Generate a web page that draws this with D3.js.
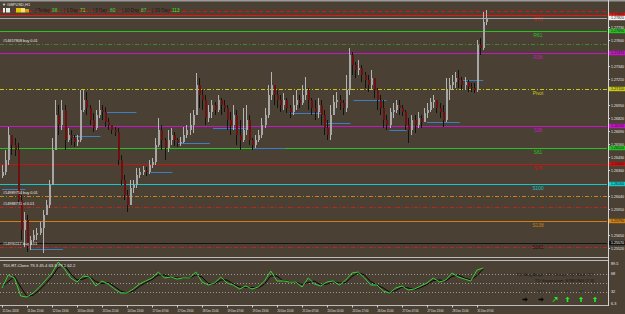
<!DOCTYPE html>
<html><head><meta charset="utf-8">
<script src="https://cdn.jsdelivr.net/npm/d3@7"></script>
<style>
html,body{margin:0;padding:0;background:#4b4034;overflow:hidden;}
svg{display:block;font-family:"Liberation Sans",Arial,sans-serif;}
</style></head><body>
<svg id="c" width="625" height="314"></svg>
<script>
// ---------- DATA ----------
const symbol = "\u25BC GBPUSD,H1";
const rangeLabels = ["Today","1 Day","5 Day","10 Day","20 Day"];
const rangeValues = [98,71,80,87,113];

// 2-hour bars (open = previous close)
const firstOpen = 1.2624;
const closes=[1.2628,1.2640,1.2665,1.2655,1.2650,1.2600,1.2570,1.2580,1.2555,1.2560,
1.2565,1.2567,1.2572,1.2585,1.2595,1.2615,1.2650,1.2685,1.2675,1.2690,
1.2660,1.2665,1.2662,1.2658,1.2660,1.2690,1.2700,1.2692,1.2680,1.2672,
1.2685,1.2690,1.2688,1.2678,1.2675,1.2670,1.2668,1.2640,1.2620,1.2605,
1.2595,1.2612,1.2615,1.2625,1.2628,1.2630,1.2628,1.2635,1.2638,1.2655,
1.2670,1.2660,1.2652,1.2660,1.2665,1.2660,1.2657,1.2658,1.2665,1.2670,
1.2675,1.2685,1.2715,1.2705,1.2700,1.2682,1.2688,1.2695,1.2690,1.2700,
1.2695,1.2692,1.2680,1.2675,1.2685,1.2665,1.2660,1.2670,1.2680,1.2660,
1.2655,1.2660,1.2665,1.2675,1.2685,1.2705,1.2715,1.2705,1.2700,1.2695,
1.2700,1.2692,1.2688,1.2695,1.2700,1.2697,1.2705,1.2710,1.2700,1.2692,
1.2688,1.2695,1.2685,1.2672,1.2665,1.2685,1.2698,1.2700,1.2697,1.2692,
1.2710,1.2745,1.2735,1.2730,1.2732,1.2725,1.2720,1.2715,1.2722,1.2710,
1.2700,1.2692,1.2680,1.2675,1.2688,1.2690,1.2695,1.2692,1.2688,1.2675,
1.2670,1.2680,1.2675,1.2682,1.2678,1.2687,1.2690,1.2698,1.2700,1.2692,
1.2688,1.2680,1.2710,1.2715,1.2718,1.2722,1.2720,1.2715,1.2718,1.2713,
1.2712,1.2710,1.2755,1.2752,1.2778,1.2782];
const highs=[1.2635,1.2650,1.2673,1.2665,1.2662,1.2657,1.2605,1.2588,1.2585,1.2564,
1.2570,1.2572,1.2578,1.2590,1.2600,1.2620,1.2662,1.2700,1.2695,1.2700,
1.2695,1.2672,1.2670,1.2665,1.2665,1.2710,1.2710,1.2708,1.2695,1.2687,
1.2690,1.2700,1.2695,1.2693,1.2682,1.2675,1.2673,1.2672,1.2645,1.2625,
1.2610,1.2620,1.2620,1.2632,1.2632,1.2634,1.2633,1.2640,1.2642,1.2662,
1.2682,1.2675,1.2662,1.2670,1.2672,1.2668,1.2662,1.2663,1.2673,1.2675,
1.2687,1.2690,1.2727,1.2722,1.2710,1.2705,1.2695,1.2700,1.2698,1.2705,
1.2702,1.2700,1.2695,1.2688,1.2695,1.2690,1.2680,1.2692,1.2695,1.2685,
1.2662,1.2665,1.2670,1.2682,1.2692,1.2715,1.2728,1.2715,1.2710,1.2705,
1.2707,1.2702,1.2695,1.2705,1.2710,1.2705,1.2715,1.2723,1.2712,1.2702,
1.2700,1.2702,1.2700,1.2690,1.2680,1.2695,1.2705,1.2708,1.2705,1.2700,
1.2725,1.2752,1.2748,1.2738,1.2740,1.2735,1.2728,1.2725,1.2730,1.2722,
1.2712,1.2705,1.2700,1.2685,1.2692,1.2697,1.2700,1.2700,1.2695,1.2690,
1.2682,1.2685,1.2685,1.2688,1.2685,1.2692,1.2697,1.2702,1.2705,1.2700,
1.2697,1.2695,1.2722,1.2722,1.2725,1.2728,1.2730,1.2723,1.2723,1.2720,
1.2717,1.2717,1.2760,1.2762,1.2788,1.2790];
const lows=[1.2622,1.2625,1.2635,1.2645,1.2644,1.2595,1.2560,1.2553,1.2548,1.2550,
1.2558,1.2560,1.2565,1.2547,1.2585,1.2592,1.2615,1.2650,1.2665,1.2670,
1.2650,1.2658,1.2655,1.2653,1.2654,1.2658,1.2688,1.2685,1.2675,1.2668,
1.2670,1.2682,1.2680,1.2673,1.2670,1.2666,1.2664,1.2635,1.2615,1.2600,
1.2588,1.2605,1.2607,1.2612,1.2622,1.2625,1.2624,1.2626,1.2632,1.2635,
1.2653,1.2650,1.2640,1.2648,1.2655,1.2654,1.2653,1.2654,1.2657,1.2662,
1.2665,1.2667,1.2688,1.2692,1.2690,1.2675,1.2678,1.2682,1.2685,1.2688,
1.2685,1.2688,1.2670,1.2665,1.2670,1.2655,1.2650,1.2658,1.2665,1.2655,
1.2650,1.2652,1.2658,1.2662,1.2672,1.2682,1.2700,1.2695,1.2692,1.2688,
1.2690,1.2687,1.2682,1.2685,1.2690,1.2692,1.2695,1.2700,1.2690,1.2685,
1.2680,1.2682,1.2675,1.2665,1.2660,1.2660,1.2685,1.2692,1.2690,1.2685,
1.2688,1.2705,1.2725,1.2722,1.2725,1.2718,1.2712,1.2708,1.2710,1.2702,
1.2690,1.2685,1.2672,1.2670,1.2672,1.2682,1.2687,1.2685,1.2684,1.2670,
1.2657,1.2665,1.2667,1.2672,1.2672,1.2678,1.2682,1.2688,1.2692,1.2687,
1.2682,1.2673,1.2678,1.2700,1.2710,1.2712,1.2712,1.2710,1.2710,1.2708,
1.2708,1.2707,1.2708,1.2745,1.2750,1.2775];

// Pivot / fibo levels
const levelNames  = ["R76","R61","R38","Pivot","S38","S61","S76","S100","S138","S161"];
const levelPrices = [1.2785,1.2769,1.2747,1.2711,1.2674,1.2652,1.2636,1.2616,1.2579,1.2557];
const levelColors = ["#e81414","#22c422","#c814c8","#c8c814","#c814c8","#22c422","#c81414","#14c8c8","#d0800e","#141414"];
const levelDashed = [false,false,false,true,false,false,false,false,false,false];

// order lines
const orderPrices = [1.2789,1.2756,1.2604,1.2593,1.2553];
const orderColors = ["#d01818","#3a8a2a","#c08a18","#c82020","#c82020"];
const orderDash   = ["4,3","4,2,1,2","4,2,1,2","4,2,1,2","4,2,1,2"];
const orderLabels = ["","#14657808 buy 0.01","#14989754 buy 0.01","#14988731 sl 0.01","#14990117 buy 0.01"];

// daily blue segments: [startHour, endHour, price]
const segStart = [0,18,45,67,95,112,135,161,184,207,225,248,272,295];
const segEnd   = [15,39,63,86,109,133,157,181,205,223,246,259,293,308];
const segPrice = [1.2611,1.2551,1.2664,1.2688,1.2628,1.2657,1.2672,1.2652,1.2687,1.2677,1.2700,1.2670,1.2678,1.2720];

const bidPrice = 1.2782;
const priceTicks = [1.2773,1.2760,1.2734,1.2721,1.2695,1.2682,1.2669,1.2656,1.2643,1.2630,1.2604,1.2591,1.2565,1.2552];

// time axis (H1 bar index)
const timeHours  = [0,16,32,48,64,80,96,112,128,144,160,176,192,208,224,240,256,272,288,304];
const timeLabels = ["11 Dec 2018","11 Dec 21:00","12 Dec 13:00","13 Dec 05:00","13 Dec 21:00","14 Dec 13:00","17 Dec 07:00","17 Dec 23:00","18 Dec 15:00","19 Dec 07:00","19 Dec 23:00","20 Dec 15:00","21 Dec 07:00","24 Dec 01:00","24 Dec 17:00","26 Dec 15:00","27 Dec 07:00","27 Dec 23:00","28 Dec 15:00","31 Dec 07:00"];

// TDI (every 4 hours)
const tdiGreen=[40,66,60,24,22,30,42,56,70,92,78,60,52,64,62,44,54,48,38,30,30,38,48,54,60,72,60,62,58,60,60,72,52,46,50,62,50,46,38,44,38,42,54,74,54,54,52,52,42,60,48,44,52,54,46,56,70,72,60,46,46,34,30,40,44,36,38,44,50,60,52,56,70,62,58,54,76,80];
const tdiSignal=[42,53,63,42,23,26,36,49,63,81,85,69,56,58,63,53,49,51,43,34,30,34,43,51,57,66,66,61,60,59,60,66,62,49,48,56,56,48,42,41,41,40,48,64,64,54,53,52,47,51,54,46,48,53,50,51,63,71,66,53,46,40,32,35,42,40,37,41,47,55,56,54,63,66,60,56,65,78];
const tdiLevels=[68,50,32];
const tdiAxis=[89.5,68,32,6.3];
const tdiHeader="TDI-RT-Clone 79.3 45.4 63.3 79.1 62.2";
const tfNames=["M5","M15","M30","H1","H4","D1"];
const tfDir=["right","right","upright","up","up","up"];

// ---------- DRAW ----------
const W=625,H=314,BG="#4b4034";
const svg=d3.select("#c");
svg.append("rect").attr("width",W).attr("height",H).attr("fill",BG);
const defs=svg.append("defs");
defs.append("clipPath").attr("id","mc").append("rect").attr("x",0).attr("y",2).attr("width",607).attr("height",255);
defs.append("clipPath").attr("id","pc").append("rect").attr("x",0).attr("y",261).attr("width",607).attr("height",44);

const x=d3.scaleLinear().domain([0,384]).range([2,602]);
const y=d3.scaleLinear().domain([1.2800,1.2543]).range([0,257]);
const yT=d3.scaleLinear().domain([68,32]).range([274,292]);

svg.append("rect").attr("x",0).attr("y",0).attr("width",W).attr("height",1.5).attr("fill","#9a9a9a");

const main=svg.append("g").attr("clip-path","url(#mc)");
const PR=607;
orderPrices.forEach((p,i)=>{
  main.append("line").attr("x1",0).attr("x2",PR).attr("y1",Math.round(y(p))+0.5).attr("y2",Math.round(y(p))+0.5)
   .attr("stroke",orderColors[i]).attr("stroke-dasharray",orderDash[i]).attr("stroke-width",1);
});
levelPrices.forEach((p,i)=>{
  main.append("line").attr("x1",0).attr("x2",PR).attr("y1",Math.round(y(p))+0.5).attr("y2",Math.round(y(p))+0.5)
   .attr("stroke",levelColors[i]).attr("stroke-width",1)
   .attr("stroke-dasharray",levelDashed[i]?"4,2,1,2":null);
  main.append("text").attr("x",538).attr("y",Math.round(y(p))+5.5).attr("text-anchor","middle")
   .attr("font-size",4.8).attr("fill",levelColors[i]).text(levelNames[i]);
});
main.append("line").attr("x1",0).attr("x2",PR).attr("y1",Math.round(y(bidPrice))+0.5).attr("y2",Math.round(y(bidPrice))+0.5)
  .attr("stroke","#a8a8a8").attr("stroke-width",1);

segPrice.forEach((p,i)=>{
  main.append("line").attr("x1",x(segStart[i])).attr("x2",x(segEnd[i]))
   .attr("y1",Math.round(y(p))+0.5).attr("y2",Math.round(y(p))+0.5)
   .attr("stroke","#3c7ec4").attr("stroke-width",1);
});

const bars=closes.map((c,i)=>({h:2*i,o:i?closes[i-1]:firstOpen,c:c,hi:highs[i],lo:lows[i]}));
const cg=main.append("g").attr("shape-rendering","crispEdges");
bars.forEach(b=>{
  const cx=Math.round(x(b.h));
  const bull=b.c>=b.o;
  const top=y(Math.max(b.hi,b.o,b.c)), bot=y(Math.min(b.lo,b.o,b.c));
  cg.append("line").attr("x1",cx+0.5).attr("x2",cx+0.5).attr("y1",top).attr("y2",bot)
    .attr("stroke",bull?"#b4b4b4":"#121212").attr("stroke-width",1);
  const bt=y(Math.max(b.o,b.c)), bb=y(Math.min(b.o,b.c));
  cg.append("rect").attr("x",cx-0.5).attr("y",bt).attr("width",2).attr("height",Math.max(1,bb-bt))
    .attr("fill",bull?"#a6a6a6":"#6e1010");
});

orderPrices.forEach((p,i)=>{
  if(!orderLabels[i])return;
  main.append("text").attr("x",3).attr("y",Math.round(y(p))-2).attr("font-size",3.8)
   .attr("fill","#e8e8e8").text(orderLabels[i]);
});

// header
svg.append("text").attr("x",2).attr("y",5.8).attr("font-size",4).attr("fill","#e0e0e0").text(symbol);
svg.append("rect").attr("x",3).attr("y",8).attr("width",2).attr("height",4.5).attr("fill","#f0f0f0");
svg.append("rect").attr("x",6).attr("y",8).attr("width",4).attr("height",4.5).attr("fill","#e8e8e8");
svg.append("rect").attr("x",16).attr("y",8).attr("width",5).attr("height",4.5).attr("fill","#e8c400");
svg.append("rect").attr("x",21).attr("y",8).attr("width",4).attr("height",4.5).attr("fill","#f2e080");
svg.append("rect").attr("x",25).attr("y",9).attr("width",4).attr("height",3.5).attr("fill","#d89a10");
const hxL=[35,64,93,122,152], hxV=[52,80,110,141,172];
const hwL=[15,14,14,17,18];
const valColors=["#3ad43a","#9ccc2c","#3ad43a","#3ad43a","#20f020"];
rangeLabels.forEach((l,i)=>{
  svg.append("text").attr("x",hxL[i]).attr("y",12.2).attr("font-size",4.8).attr("fill","#1a1a1a")
    .attr("textLength",hwL[i]).attr("lengthAdjust","spacingAndGlyphs").text("| "+l);
  svg.append("text").attr("x",hxV[i]).attr("y",12.2).attr("font-size",4.8).attr("fill",valColors[i]).text(rangeValues[i]);
});

// borders
svg.append("line").attr("x1",0).attr("x2",609).attr("y1",257.5).attr("y2",257.5).attr("stroke","#bdbdbd");
svg.append("line").attr("x1",0).attr("x2",609).attr("y1",260.5).attr("y2",260.5).attr("stroke","#bdbdbd");
svg.append("line").attr("x1",0).attr("x2",609).attr("y1",305.5).attr("y2",305.5).attr("stroke","#bdbdbd");
svg.append("line").attr("x1",608.5).attr("x2",608.5).attr("y1",0).attr("y2",306).attr("stroke","#d6d6d6");

// price axis
priceTicks.forEach(p=>{
  const yy=Math.round(y(p))+0.5;
  svg.append("line").attr("x1",608).attr("x2",610).attr("y1",yy).attr("y2",yy).attr("stroke","#d6d6d6");
  svg.append("text").attr("x",611).attr("y",yy+1.4).attr("font-size",3.8).attr("fill","#e8e8e8")
    .attr("textLength",13).attr("lengthAdjust","spacingAndGlyphs").text(p.toFixed(5));
});
const boxP=levelPrices.concat([bidPrice]);
const boxC=levelColors.concat(["#f0f0f0"]);
boxP.forEach((p,i)=>{
  const yy=y(p);
  svg.append("rect").attr("x",609).attr("y",yy-2.2).attr("width",16).attr("height",4.4).attr("fill",boxC[i]);
  svg.append("text").attr("x",611).attr("y",yy+1.3).attr("font-size",3.6)
    .attr("textLength",13).attr("lengthAdjust","spacingAndGlyphs")
    .attr("fill",boxC[i]==="#141414"?"#ffffff":"#1a1a1a").text(p.toFixed(5));
});

// TDI panel
const pg=svg.append("g").attr("clip-path","url(#pc)");
tdiLevels.forEach(v=>{
  pg.append("line").attr("x1",0).attr("x2",PR).attr("y1",Math.round(yT(v))+0.5).attr("y2",Math.round(yT(v))+0.5)
   .attr("stroke","#9a9a9a").attr("stroke-dasharray","1,2");
});
const ln=d3.line().x((d,i)=>x(4*i)).y(d=>yT(d));
pg.append("path").attr("d",ln(tdiSignal)).attr("fill","none").attr("stroke","#050505").attr("stroke-width",1);
pg.append("path").attr("d",ln(tdiGreen)).attr("fill","none").attr("stroke","#35d035").attr("stroke-width",1);
svg.append("text").attr("x",3).attr("y",266.5).attr("font-size",4.2).attr("fill","#e6e6e6").text(tdiHeader);
tdiAxis.forEach(v=>{
  const yy=yT(v);
  svg.append("text").attr("x",611).attr("y",Math.min(yy+1.4,305)).attr("font-size",3.8).attr("fill","#e8e8e8").text(v);
});
svg.append("text").attr("x",594).attr("y",275.5).attr("text-anchor","end").attr("font-size",4.4).attr("fill","#151515")
  .text("TDI Avg Angle: 71\u00B0 Green: 74\u00B0 Red: 72\u00B0");
svg.append("text").attr("x",594).attr("y",281.5).attr("text-anchor","end").attr("font-size",4.4).attr("fill","#151515")
  .text("TD Separation: STRONG [7.3]");
const tfx=[525,541,555,567.5,581,595];
tfNames.forEach((n,i)=>{
  svg.append("text").attr("x",tfx[i]).attr("y",292.5).attr("text-anchor","middle").attr("font-size",4).attr("fill","#2a2a2a").text(n);
  const g=svg.append("g").attr("transform",`translate(${tfx[i]},299.5)`);
  const col=tfDir[i]==="right"?"#000000":"#22ee22";
  let path;
  if(tfDir[i]==="right") path="M-2.5,-0.8 L0.5,-0.8 L0.5,-2.2 L2.8,0 L0.5,2.2 L0.5,0.8 L-2.5,0.8 Z";
  else if(tfDir[i]==="up") path="M-0.8,2.5 L-0.8,-0.5 L-2.2,-0.5 L0,-2.8 L2.2,-0.5 L0.8,-0.5 L0.8,2.5 Z";
  else path="M-1.9,2.5 L-2.5,1.9 L0.4,-1.0 L-1.0,-2.4 L2.5,-2.5 L2.4,1.0 L1.0,-0.4 Z";
  g.append("path").attr("d",path).attr("fill",col);
});

// time axis
timeHours.forEach((h,i)=>{
  const xx=Math.round(x(h))+0.5;
  svg.append("line").attr("x1",xx).attr("x2",xx).attr("y1",305).attr("y2",307.5).attr("stroke","#d0d0d0");
  svg.append("text").attr("x",xx).attr("y",311.5).attr("font-size",3.6).attr("fill","#e4e4e4")
    .attr("textLength",16).attr("lengthAdjust","spacingAndGlyphs").text(timeLabels[i]);
});
</script>
</body></html>
